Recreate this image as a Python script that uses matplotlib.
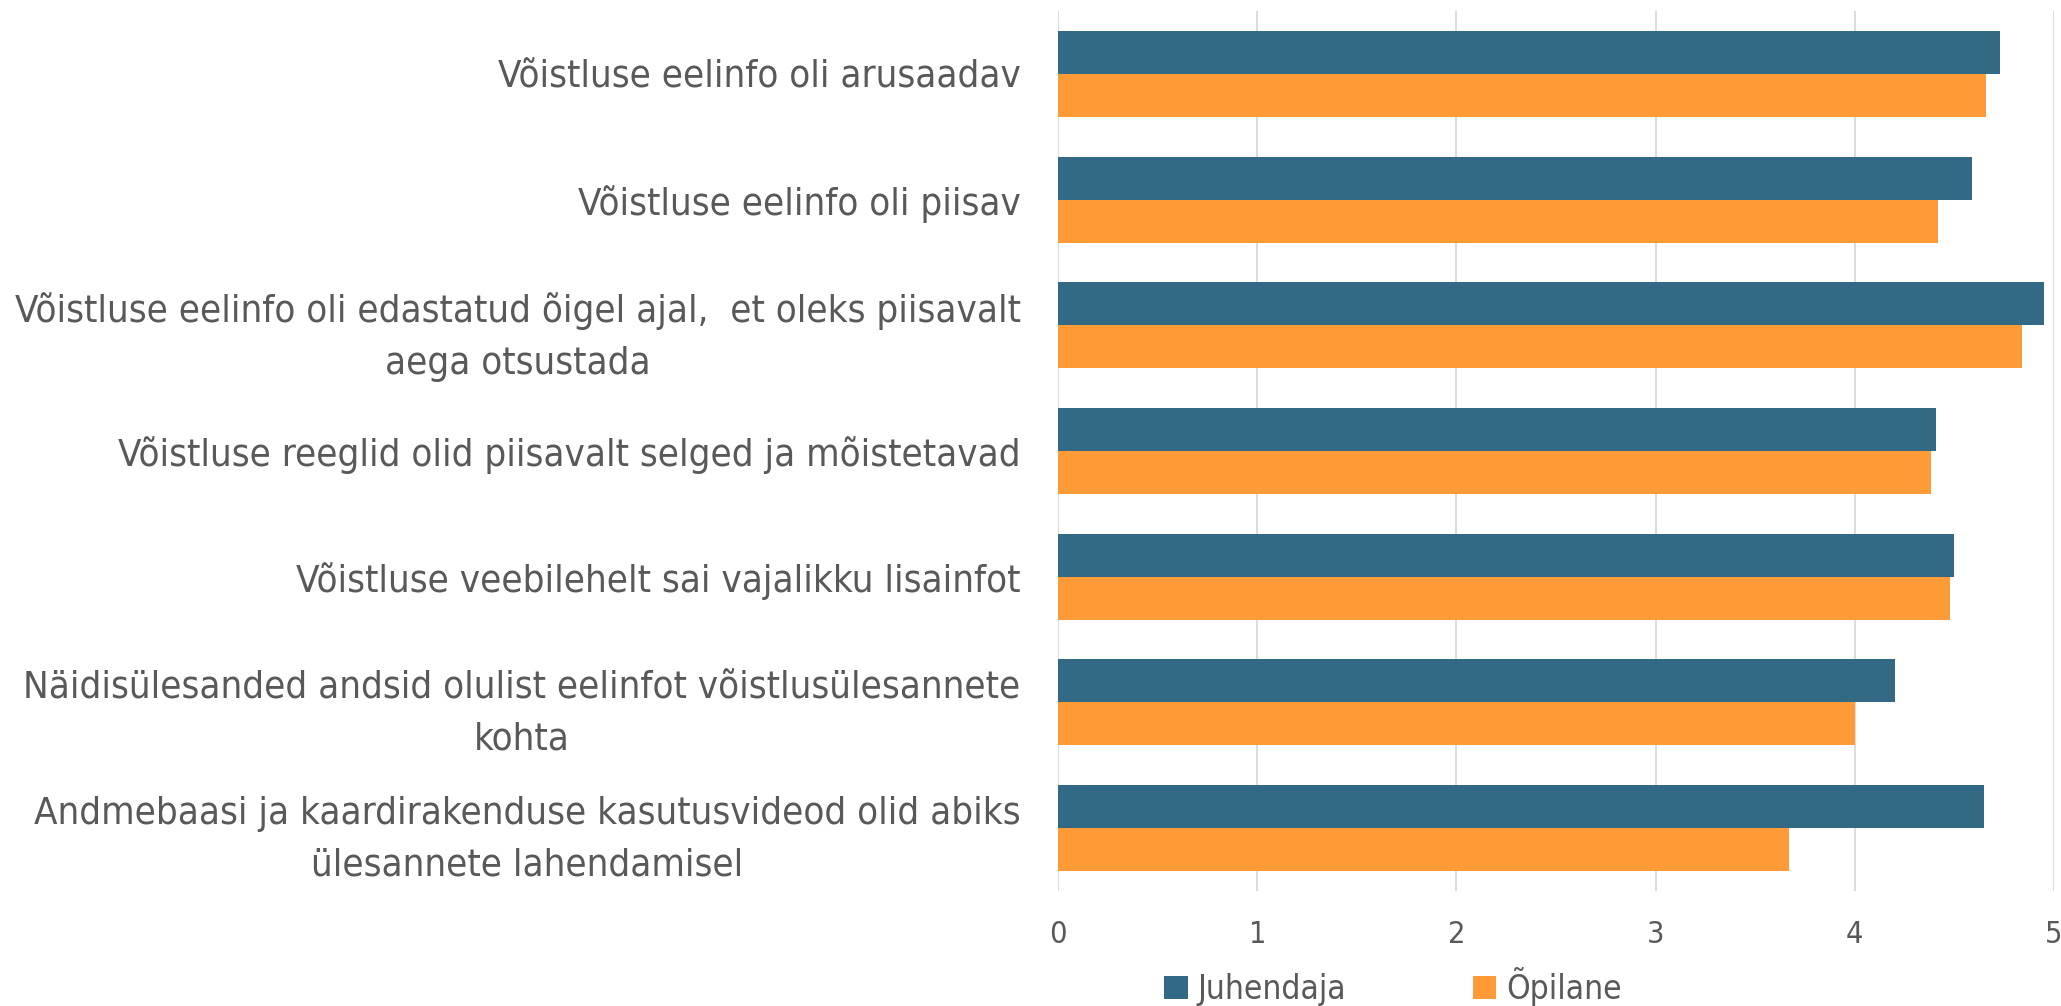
import numpy as np
import matplotlib.pyplot as plt

plt.rcParams['font.family'] = ['DejaVu Sans']
plt.rcParams['font.stretch'] = 'condensed'

questions = [
    "Võistluse eelinfo oli arusaadav",
    "Võistluse eelinfo oli piisav",
    "Võistluse eelinfo oli edastatud õigel ajal,  et oleks piisavalt\naega otsustada",
    "Võistluse reeglid olid piisavalt selged ja mõistetavad",
    "Võistluse veebilehelt sai vajalikku lisainfot",
    "Näidisülesanded andsid olulist eelinfot võistlusülesannete\nkohta",
    "Andmebaasi ja kaardirakenduse kasutusvideod olid abiks\nülesannete lahendamisel",
]
juhendaja = [4.73, 4.59, 4.95, 4.41, 4.50, 4.20, 4.65]
opilane = [4.66, 4.42, 4.84, 4.38, 4.48, 4.00, 3.67]
series_names = ["Juhendaja", "Õpilane"]
xticks = [0, 1, 2, 3, 4, 5]

blue = "#326A85"
orange = "#FF9B37"
grey = "#595959"

fig = plt.figure(figsize=(20.61, 10.06), dpi=100)
ax = fig.add_axes([0.5134, 0.1143, 0.4832, 0.8747])

y = np.arange(len(questions))
h = 0.342
ax.barh(y - h/2, juhendaja, height=h, color=blue, label=series_names[0], zorder=3)
ax.barh(y + h/2, opilane, height=h, color=orange, label=series_names[1], zorder=3)

ax.set_xlim(0, 5)
ax.set_ylim(len(questions) - 0.5, -0.5)
ax.set_xticks(xticks)
ax.set_xticklabels([str(t) for t in xticks], fontsize=22, color=grey)
ax.set_yticks(y)
ax.set_yticklabels(questions, fontsize=27.5, color=grey, multialignment='center',
                   linespacing=1.55)
ax.tick_params(axis='y', length=0, pad=27)
ax.tick_params(axis='x', length=0, pad=21)
ax.grid(axis='x', color='#D9D9D9', linewidth=1.3, zorder=0)
for s in ax.spines.values():
    s.set_visible(False)

fig.legend(loc='center', bbox_to_anchor=(0.676, 0.019), ncol=2, frameon=False,
           fontsize=24, labelcolor=grey, handlelength=0.7, handleheight=0.7,
           handletextpad=0.3, columnspacing=3.8)

fig.savefig("out.png", dpi=100)
